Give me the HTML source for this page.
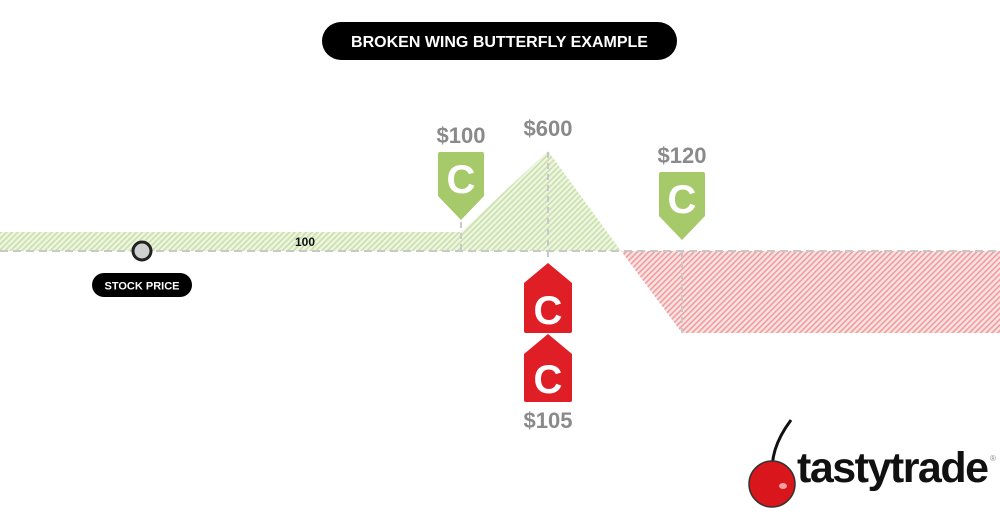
<!DOCTYPE html>
<html><head><style>body{margin:0;background:#fff;width:1000px;height:523px;overflow:hidden}</style></head>
<body>
<svg width="1000" height="523" viewBox="0 0 1000 523" xmlns="http://www.w3.org/2000/svg" font-family="Liberation Sans, sans-serif">
<defs>
<pattern id="g" width="4" height="4" patternUnits="userSpaceOnUse" patternTransform="rotate(45)">
<rect width="4" height="4" fill="#eef5e2"/><rect width="1.6" height="4" fill="#c9e0a8"/></pattern>
<pattern id="r" width="4" height="4" patternUnits="userSpaceOnUse" patternTransform="rotate(45)">
<rect width="4" height="4" fill="#fbe3e3"/><rect width="1.6" height="4" fill="#f09c9c"/></pattern>
</defs>
<rect x="322" y="22" width="355" height="38" rx="19" fill="#000"/>
<text x="499.5" y="47" fill="#fff" font-size="16" font-weight="bold" text-anchor="middle">BROKEN WING BUTTERFLY EXAMPLE</text>
<polygon points="0,232 461,232 548,151 621,251 0,251" fill="url(#g)"/>
<polygon points="621,251 1000,251 1000,333 682,333" fill="url(#r)"/>
<line x1="0" y1="251" x2="1000" y2="251" stroke="#c8c8c8" stroke-width="2" stroke-dasharray="8,5"/>
<g stroke="#c8c8c8" stroke-width="2" stroke-dasharray="6,5">
<line x1="461" y1="222" x2="461" y2="251"/><line x1="548" y1="152" x2="548" y2="262"/><line x1="682" y1="251" x2="682" y2="333"/></g>
<text x="305" y="246" font-size="12" font-weight="bold" text-anchor="middle" fill="#111">100</text>
<circle cx="142" cy="251" r="9" fill="#d0d0d0" stroke="#222" stroke-width="3"/>
<rect x="92" y="273" width="100" height="24" rx="12" fill="#000"/>
<text x="142" y="289.5" fill="#fff" font-size="11" font-weight="bold" text-anchor="middle">STOCK PRICE</text>
<g font-size="22" font-weight="bold" fill="#8a8a8a" text-anchor="middle">
<text x="461" y="143">$100</text><text x="548" y="136">$600</text><text x="682" y="163">$120</text><text x="548" y="428">$105</text></g>
<path d="M440,152 h42 a2,2 0 0 1 2,2 v42 l-23,24 l-23,-24 v-42 a2,2 0 0 1 2,-2z" fill="#a6c96a"/>
<path d="M661,172 h42 a2,2 0 0 1 2,2 v42 l-23,24 l-23,-24 v-42 a2,2 0 0 1 2,-2z" fill="#a6c96a"/>
<path d="M524,283 l24,-20 l24,20 v48 a2,2 0 0 1 -2,2 h-44 a2,2 0 0 1 -2,-2z" fill="#e01e26"/>
<path d="M524,354 l24,-20 l24,20 v46 a2,2 0 0 1 -2,2 h-44 a2,2 0 0 1 -2,-2z" fill="#e01e26"/>
<g font-size="40" font-weight="bold" fill="#fff" text-anchor="middle">
<text x="461" y="193">C</text><text x="682" y="213">C</text><text x="548" y="324">C</text><text x="548" y="393">C</text></g>
<path d="M791,420 C776,440 770,460 773,478" stroke="#111" stroke-width="3" fill="none"/>
<circle cx="772" cy="484" r="23" fill="#d8161c" stroke="#333" stroke-width="1.5"/>
<ellipse cx="783" cy="486" rx="4" ry="3" fill="#f7a0a0"/>
<text x="797" y="482" font-size="43" font-weight="bold" fill="#111" letter-spacing="-1.5">tastytrade</text>
<text x="990" y="461" font-size="8" fill="#888">®</text>
</svg>
</body></html>
